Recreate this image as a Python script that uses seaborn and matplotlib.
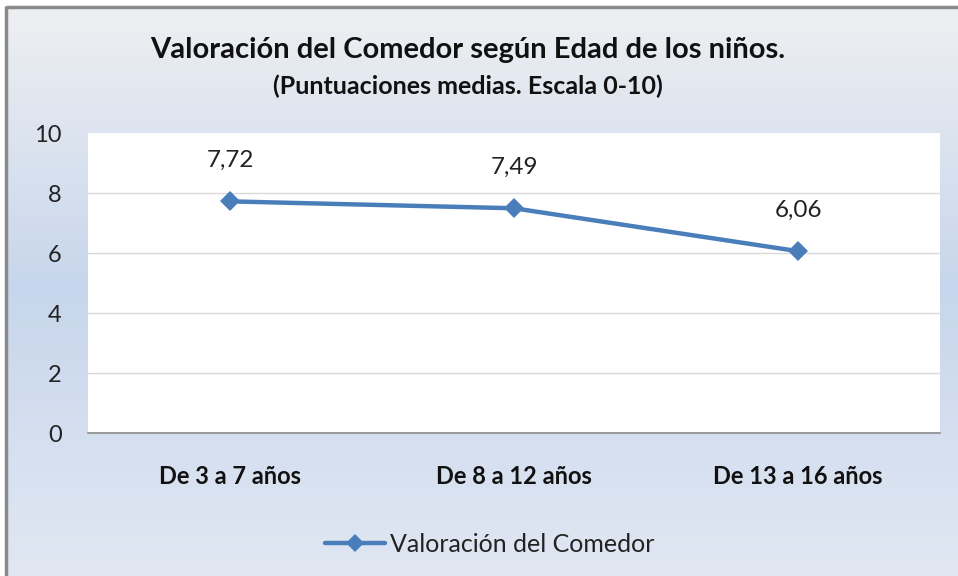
import numpy as np
import pandas as pd
import matplotlib
matplotlib.use("Agg")
import matplotlib.pyplot as plt
from matplotlib.colors import LinearSegmentedColormap
from matplotlib.patches import Rectangle
from matplotlib.lines import Line2D
import seaborn as sns

categories = ["De 3 a 7 años", "De 8 a 12 años", "De 13 a 16 años"]
values = [7.72, 7.49, 6.06]
value_labels = ["7,72", "7,49", "6,06"]
series_name = "Valoración del Comedor"
yticks = [0, 2, 4, 6, 8, 10]

sns.set_theme(style="white")
plt.rcParams['font.family'] = ['Lato', 'DejaVu Sans']

W, H = 958, 576
fig = plt.figure(figsize=(9.5804, 5.7604), dpi=100, linewidth=0)

cmap = LinearSegmentedColormap.from_list(
    "bg", [(0.0, "#e2e8f3"), (0.5, "#c7d6ec"), (1.0, "#f1f1f2")])
grad = np.linspace(0, 1, 256).reshape(-1, 1)

# background gradient
bg = fig.add_axes([-0.02, -0.02, 1.04, 1.04], zorder=-10)
bg.imshow(grad, aspect="auto", cmap=cmap, extent=[0, 1, 0, 1], origin="lower",
          interpolation="bilinear")
bg.set_xlim(0, 1)
bg.set_ylim(0, 1)
bg.axis("off")

# outer border (top and left visible), white margin outside
fig.add_artist(Rectangle((0, 1 - 6 / H), 1, 6 / H, color="white",
                         transform=fig.transFigure, zorder=-5))
fig.add_artist(Rectangle((0, 0), 5 / W, 1, color="white",
                         transform=fig.transFigure, zorder=-5))
fig.add_artist(Line2D([6 / W, 6 / W], [0, 1 - 6 / H], color="#8a8a8a", lw=2.5,
                      solid_capstyle="butt", transform=fig.transFigure, zorder=-4))
fig.add_artist(Line2D([6 / W, 1.01], [1 - 7 / H, 1 - 7 / H], color="#8a8a8a", lw=2.5,
                      solid_capstyle="butt", transform=fig.transFigure, zorder=-4))

# plot area: x 88..940, y 133..433
left, right, top, bottom = 88, 940, 133, 433
ax = fig.add_axes([left / W, 1 - bottom / H, (right - left) / W, (bottom - top) / H])
ax.set_facecolor("white")

df = pd.DataFrame({"cat": categories, "val": values})
sns.lineplot(data=df, x="cat", y="val", ax=ax, color="#4a7ebb", lw=3.2,
             marker="D", markersize=10, markeredgewidth=0, sort=False)

ax.set_xlim(-0.5, len(categories) - 0.5)
ax.set_ylim(0, 10)
ax.set_yticks(yticks)
ax.set_yticklabels([str(t) for t in yticks], fontsize=17, color="#222222")
ax.grid(axis="y", color="#d9d9d9", lw=1)
ax.grid(axis="x", visible=False)
ax.get_ygridlines()[-1].set_visible(False)
ax.tick_params(axis="y", length=0, pad=19)
ax.tick_params(axis="x", length=0, pad=23)
ax.set_xticks(range(len(categories)))
ax.set_xticklabels(categories, fontsize=17, fontweight="bold", color="#111111")
ax.set_xlabel("")
ax.set_ylabel("")
for s in ["top", "right", "left"]:
    ax.spines[s].set_visible(False)
ax.spines["bottom"].set_color("#8c8c8c")
ax.spines["bottom"].set_linewidth(1.2)

for i, (v, lab) in enumerate(zip(values, value_labels)):
    ax.annotate(lab, (i, v), xytext=(0, 22), textcoords="offset points",
                ha="center", va="bottom", fontsize=17.5, color="#222222")

fig.text(468 / W, 1 - 50 / H, "Valoración del Comedor según Edad de los niños.",
         ha="center", va="center", fontsize=21, fontweight="bold", color="#111111")
fig.text(468 / W, 1 - 86 / H, "(Puntuaciones medias. Escala 0-10)",
         ha="center", va="center", fontsize=18, fontweight="bold", color="#111111")

handle = Line2D([], [], color="#4a7ebb", lw=3.2, marker="D", markersize=9,
                markeredgewidth=0)
fig.legend([handle], [series_name], loc="center", bbox_to_anchor=(490 / W, 1 - 544 / H),
           frameon=False, fontsize=18, handlelength=2.4, handletextpad=0.2,
           labelcolor="#222222")

fig.savefig("out.png", dpi=100)
